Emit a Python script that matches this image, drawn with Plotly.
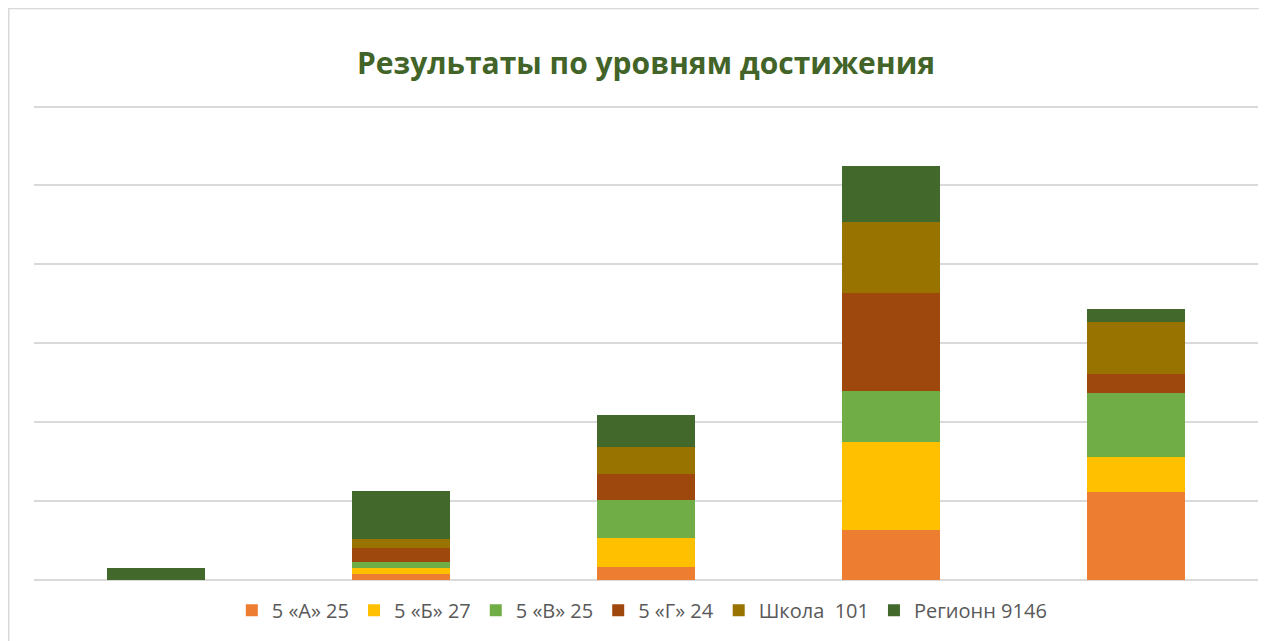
import plotly.graph_objects as go

categories = ["Недостаточный", "Пониженный", "Базовый", "Повышенный", "Высокий"]

series_names = ["5 «А» 25", "5 «Б» 27", "5 «В» 25", "5 «Г» 24", "Школа  101", "Регионн 9146"]
class_a = [0, 4, 8, 32, 56]
class_b = [0, 3.7, 18.52, 55.56, 22.22]
class_v = [0, 4, 24, 32, 40]
class_g = [0, 8.33, 16.67, 62.5, 12.5]
school = [0, 5.94, 16.83, 44.55, 32.67]
region = [7.4, 30.3, 20.3, 35.5, 8.2]

colors = ["#ED7D31", "#FFC000", "#70AD47", "#9E480E", "#997300", "#43682B"]
all_values = [class_a, class_b, class_v, class_g, school, region]

fig = go.Figure()
for name, vals, col in zip(series_names, all_values, colors):
    fig.add_trace(go.Bar(x=categories, y=vals, name=name, marker=dict(color=col, line=dict(width=0))))

# page offset of 8px (body margin) is taken into account
W, H = 1267, 641
L, R = 26, W - 1250
base_y = 571.7
px_per_unit = 472.7 / 300
ymax = 301
ph = ymax * px_per_unit
T = base_y - ph
B = H - base_y
pw = W - L - R

fig.update_layout(
    width=W, height=H,
    barmode="stack",
    bargap=0.6,
    plot_bgcolor="white",
    paper_bgcolor="white",
    margin=dict(l=L, r=R, t=T, b=B, autoexpand=False),
    font=dict(family="Open Sans", color="#595959"),
    title=dict(
        text="<b>Результаты по уровням достижения</b>",
        font=dict(family="Open Sans", size=30, color="#426428"),
        x=638 / W, xanchor="center", xref="container",
        y=1 - 55 / H, yanchor="middle", yref="container",
    ),
    xaxis=dict(showticklabels=False, showgrid=False, showline=False, ticks=""),
    yaxis=dict(range=[0, ymax], dtick=50, showticklabels=False, showgrid=True,
               gridcolor="#D9D9D9", gridwidth=1.5, zeroline=True, zerolinecolor="#D9D9D9",
               zerolinewidth=1.5, showline=False, ticks=""),
    legend=dict(orientation="h", x=0.497, xanchor="center", y=-(602 - base_y) / ph, yanchor="middle",
                font=dict(family="Open Sans", size=20, color="#595959"), traceorder="normal"),
    showlegend=True,
    shapes=[dict(type="rect", xref="paper", yref="paper",
                 x0=(0.75 - L) / pw, x1=(W + 20 - L) / pw,
                 y0=-(H + 20 - base_y) / ph, y1=1 + (T - 1) / ph,
                 line=dict(color="#D9D9D9", width=1.5), fillcolor="rgba(0,0,0,0)", layer="below")],
)

fig.write_html("out.html")
